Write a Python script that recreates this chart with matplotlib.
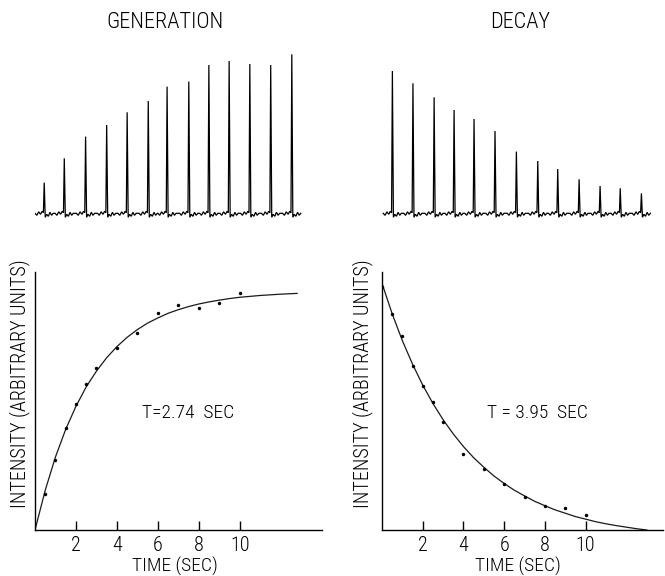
import matplotlib
matplotlib.use("Agg")
import matplotlib.pyplot as plt

plt.rcParams['font.family'] = ['Roboto Condensed', 'Barlow Semi Condensed', 'DejaVu Sans']
plt.rcParams['font.weight'] = 'light'

# ---------------- data ----------------
# Generation: measured points (time s, intensity arb. units, axis top = 100)
gen_t = [0.5, 1, 1.5, 2, 2.5, 3, 4, 5, 6, 7, 8, 9, 10]
gen_y = [13.8, 27.1, 39.6, 48.8, 56.5, 62.6, 70.3, 76.3, 83.9, 87.1, 85.9, 87.7, 91.6]
# Generation: fitted curve
gen_curve_t = [0, 0.5, 1, 1.5, 2, 2.5, 3, 3.5, 4, 4.5, 5, 5.5, 6, 6.5, 7, 7.5, 8,
               8.5, 9, 9.5, 10, 11, 12, 12.8]
gen_curve_y = [0, 15.4, 28.3, 39.0, 47.9, 55.4, 61.5, 66.7, 71.0, 74.6, 77.6, 80.1,
               82.1, 83.9, 85.3, 86.5, 87.5, 88.3, 89.0, 89.6, 90.1, 90.8, 91.3, 91.6]

# Decay: measured points
dec_t = [0, 0.5, 1, 1.5, 2, 2.5, 3, 4, 5, 6, 7, 8, 9, 10]
dec_y = [94.2, 83.6, 75.1, 63.6, 55.9, 49.7, 41.7, 29.4, 23.7, 17.8, 12.9, 9.3, 8.4, 5.7]
# Decay: fitted curve
dec_curve_t = [0, 0.5, 1, 1.5, 2, 2.5, 3, 3.5, 4, 4.5, 5, 5.5, 6, 6.5, 7, 7.5, 8,
               8.5, 9, 9.5, 10, 10.5, 11, 11.5, 12, 12.5, 13]
dec_curve_y = [95.5, 83.7, 73.3, 64.2, 56.1, 49.0, 42.7, 37.2, 32.3, 28.0, 24.3, 20.9,
               18.0, 15.4, 13.2, 11.1, 9.4, 7.8, 6.5, 5.2, 4.2, 3.2, 2.4, 1.7, 1.1, 0.5, 0.0]

# Recorder traces: peak times (s) and peak heights (trace units)
gen_peak_t = [0.45, 1.43, 2.47, 3.50, 4.50, 5.53, 6.45, 7.51, 8.49, 9.48, 10.49, 11.51, 12.54]
gen_peak_h = [30.7, 55, 76.7, 88.3, 101, 112.3, 126.7, 131.7, 148.3, 152.3, 149.3, 148.3, 159]
dec_peak_t = [0.51, 1.52, 2.56, 3.54, 4.52, 5.55, 6.60, 7.65, 8.63, 9.68, 10.71, 11.70, 12.74]
dec_peak_h = [142.3, 130, 116, 103.3, 94.3, 82.3, 61.7, 52.3, 44.3, 34, 27.3, 25, 20]
# baseline ripple around each peak (offset in s, level); None marks the peak itself
ripple_dt = [-0.45, -0.36, -0.27, -0.18, -0.10, -0.04, 0.0, 0.05, 0.12, 0.20, 0.28, 0.36, 0.44]
ripple_dy = [0.0, -2.0, 1.5, -1.0, 2.0, 0.5, None, -4.0, -1.0, -3.0, 1.0, -2.0, 0.0]

x_ticks = [2, 4, 6, 8, 10]
x_ticklabels = ['2', '4', '6', '8', '10']

W, H = 665, 576
fig = plt.figure(figsize=(W / 100, H / 100), dpi=100)


def px_rect(x0, y_top, x1, y_bot):
    return [x0 / W, 1 - y_bot / H, (x1 - x0) / W, (y_bot - y_top) / H]


def build_trace(peaks_t, peaks_h):
    xs, ys = [], []
    for pt, ph in zip(peaks_t, peaks_h):
        for dt, dy in zip(ripple_dt, ripple_dy):
            xs.append(pt + dt)
            ys.append(ph if dy is None else dy)
    return xs, ys


def trace_axes(rect, xmax, peaks_t, peaks_h):
    ax = fig.add_axes(rect)
    xs, ys = build_trace(peaks_t, peaks_h)
    ax.plot(xs, ys, color='black', lw=0.9, solid_joinstyle='miter')
    ax.set_xlim(0, xmax)
    ax.set_ylim(-10, 170)
    ax.axis('off')
    return ax


def main_axes(rect, xmax, pts_t, pts_y, cur_t, cur_y):
    ax = fig.add_axes(rect)
    ax.plot(cur_t, cur_y, color='#1a1a1a', lw=0.9)
    ax.plot(pts_t, pts_y, 'o', color='black', ms=2.5, mec='none')
    ax.set_xlim(0, xmax)
    ax.set_ylim(0, 100)
    for s in ('top', 'right'):
        ax.spines[s].set_visible(False)
    for s in ('left', 'bottom'):
        ax.spines[s].set_linewidth(1.0)
    ax.set_xticks(x_ticks)
    ax.set_xticklabels(x_ticklabels)
    ax.set_yticks([])
    ax.tick_params(axis='x', direction='in', length=6.5, width=1.0, pad=4.0,
                   labelsize=14.5)
    return ax


# lower plots
axL = main_axes(px_rect(35, 271.7, 321.7, 530), 14.0, gen_t, gen_y, gen_curve_t, gen_curve_y)
axR = main_axes(px_rect(382, 271.7, 663, 530), 13.8, dec_t, dec_y, dec_curve_t, dec_curve_y)

# traces
trace_axes(px_rect(35, 43.3, 321.7, 223.3), 14.0, gen_peak_t, gen_peak_h)
trace_axes(px_rect(382, 43.3, 663, 223.3), 13.8, dec_peak_t, dec_peak_h)


def ftext(x, y, s, **kw):
    fig.text(x / W, 1 - y / H, s, **kw)


ftext(165, 23, 'GENERATION', ha='center', va='center', fontsize=16)
ftext(520, 23, 'DECAY', ha='center', va='center', fontsize=16)
ftext(175, 566, 'TIME (SEC)', ha='center', va='center', fontsize=14)
ftext(518, 566, 'TIME (SEC)', ha='center', va='center', fontsize=14)
ftext(20, 384, 'INTENSITY (ARBITRARY UNITS)', ha='center', va='center',
      rotation=90, fontsize=14.5)
ftext(363, 384, 'INTENSITY (ARBITRARY UNITS)', ha='center', va='center',
      rotation=90, fontsize=14.5)
ftext(141.7, 412.7, 'T=2.74  SEC', ha='left', va='center', fontsize=14)
ftext(486.7, 412.7, 'T = 3.95  SEC', ha='left', va='center', fontsize=14)

fig.savefig('out.png', dpi=100)
